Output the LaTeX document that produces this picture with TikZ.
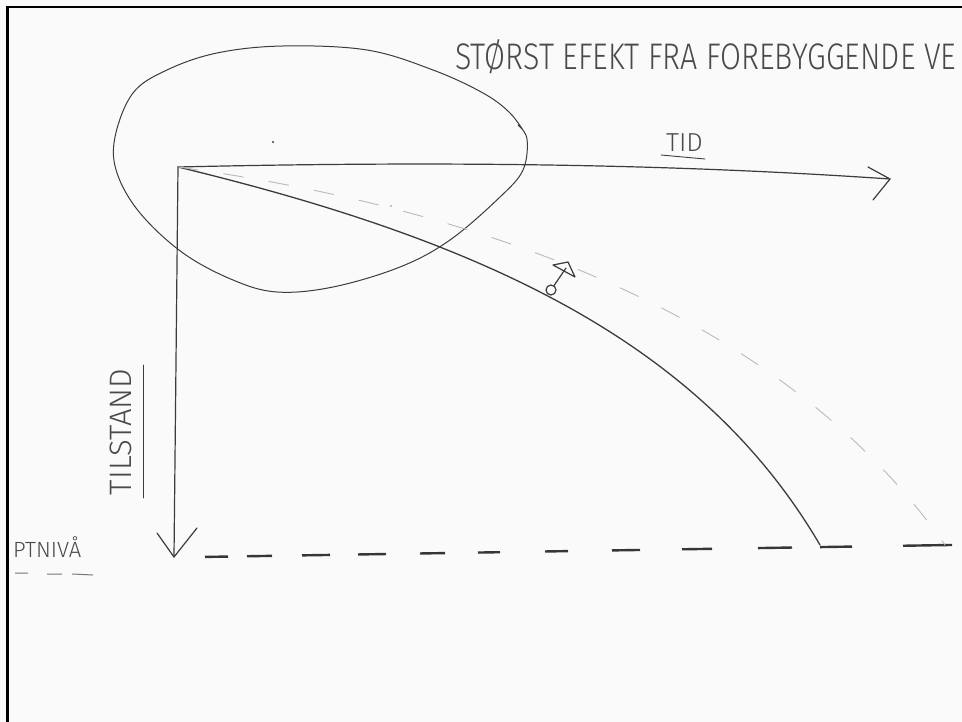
\documentclass[tikz,border=0pt]{standalone}
\usepackage{fontspec}
\newfontfamily\hand{Fira Sans}[UprightFont={* Light}]
\definecolor{paper}{HTML}{FAFAFA}
\definecolor{inkc}{HTML}{3C3C3C}
\definecolor{textc}{HTML}{4A4A4A}
\definecolor{faint}{HTML}{BABABA}
\begin{document}
\begin{tikzpicture}[x=1pt,y=-1pt,
  ink/.style={draw=inkc, line width=1.2pt, line cap=round, line join=round},
  faintdash/.style={draw=faint, line width=0.9pt, line cap=round, dash pattern=on 20pt off 26pt},
  basedash/.style={draw=inkc!90!black, line width=2.4pt},
  handtext/.style={text=textc, inner sep=0pt, font=\hand}]
\useasboundingbox (0,0) rectangle (962,722);
\fill[paper] (0,0) rectangle (962,722);
\begin{scope}
\clip (0,0) rectangle (962,722);
% frame
\draw[black, line width=2.6pt] (7.2,730) -- (7.2,7.2) -- (970,7.2);
% named points
\coordinate (O) at (178,167);
\coordinate (tipH) at (890,179);
\coordinate (tipV) at (174,557);
\coordinate (endS) at (820,545);
\coordinate (endD) at (945,545);
% egg-shaped loop
\draw[ink, line width=1pt] plot[smooth, tension=0.6] coordinates {
  (518,125) (527,139) (523,170) (500,197) (450,240) (400,267) (333,287) (277,292)
  (233,280) (183,253) (140,213) (117,173) (115,137) (133,93) (167,70) (217,53)
  (283,46) (367,50) (433,70) (483,93) (510,113) (526,135)};
% time axis
\draw[ink] (O) .. controls (480,160) and (700,166) .. (tipH);
\draw[ink] (868,167) -- (tipH) -- (873,200);
\node[handtext, font=\hand\fontsize{26}{26}\selectfont, anchor=base west] (tid) at (666,152) {TID};
\draw[ink, line width=0.9pt] (661,155) -- (705,159);
% condition axis
\draw[ink] (O) -- (tipV);
\draw[ink] (157,533) -- (tipV) -- (197,528);
\node[handtext, font=\hand\fontsize{31}{31}\selectfont, rotate=90] (tilstand) at (121,432) {TILSTAND};
\draw[ink, line width=0.9pt] (143,365) -- (143,498);
% level label
\node[handtext, font=\hand\fontsize{22}{22}\selectfont, anchor=base west] (niva) at (13,557) {PTNIVÅ};
\draw[inkc!70, line width=1pt] (15,573) -- (28,573) (47,574) -- (62,574) (72,574) -- (93,575);
% baseline dashes
\foreach \a/\b in {205/228, 247/272, 302/330, 358/386, 420/445, 478/500, 545/568, 612/640, 682/712, 758/792, 820/852, 903/952}{
  \draw[basedash] (\a,{557-(\a-200)*12/750}) -- (\b,{557-(\b-200)*12/750});
}
% solid decline curve
\draw[ink, line width=1.3pt] (O) .. controls (480,240) and (700,340) .. (endS);
% dashed improved curve
\draw[faintdash] (O) .. controls (600,225) and (830,380) .. (endD);
% marker with arrow
\node[circle, draw=inkc, line width=1.2pt, minimum size=10pt, inner sep=0pt] (mark) at (551,290) {};
\coordinate (arrowtop) at (566,268);
\draw[ink] (mark) -- (arrowtop);
\draw[ink] (553,265) -- (568,262) -- (575,277) -- cycle;
% stray dots
\fill[inkc] (273,142) circle (1.1pt);
\fill[inkc!60] (391,206) circle (0.9pt);
% title
\node[handtext, anchor=base west] (title) at (455,70) {\scalebox{0.82}[1]{\fontsize{37}{37}\selectfont STØRST EFEKT FRA FOREBYGGENDE VE}};
\end{scope}
\end{tikzpicture}
\end{document}
